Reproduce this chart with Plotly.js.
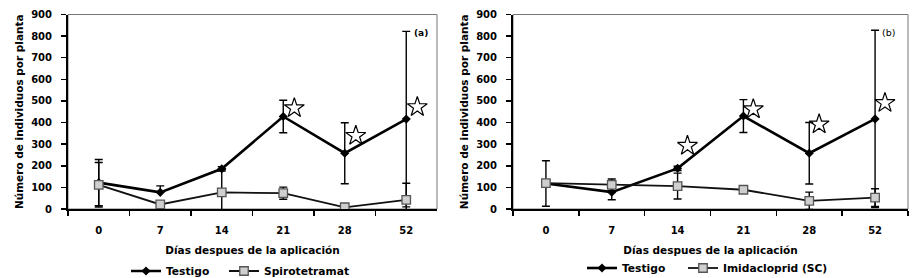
<!DOCTYPE html>
<html>
<head>
<meta charset="utf-8">
<script src="https://cdn.plot.ly/plotly-3.0.1.min.js"></script>
<style>
html,body{margin:0;padding:0;background:#fff;}
#chart{width:916px;height:278px;}
</style>
</head>
<body>
<div id="chart"></div>
<script>
// ---- data ----
const categories = ['0', '7', '14', '21', '28', '52'];

// panel (a)
const testigoA = [122, 77, 186, 428, 258, 416];
const testigoAErrPlus = [107, 30, 10, 75, 141, 406];
const testigoAErrMinus = [107, 0, 10, 75, 141, 406];
const spiroA = [112, 21, 77, 73, 8, 42];
const spiroAErr = [103, 0, 105, 28, 0, 77];
const starCatA = ['21', '28', '52'];
const starYA = [467, 339, 472];

// panel (b)
const testigoB = [118, 78, 188, 430, 258, 417];
const testigoBErr = [105, 35, 10, 76, 142, 410];
const imidaB = [120, 112, 106, 89, 38, 53];
const imidaBErr = [0, 27, 60, 0, 40, 41];
const starCatB = ['14', '21', '28', '52'];
const starYB = [293, 462, 392, 491];

const yTickVals = [0, 100, 200, 300, 400, 500, 600, 700, 800, 900];

// ---- styles ----
const W = 916, H = 278;
const FONT = 'DejaVu Sans, Verdana, sans-serif';
const starOffsetA = 0.18, starOffsetB = 0.15;
const px = v => v / W;
const py = v => (H - v) / H;

function testigoTrace(y, plus, minus, xa, ya, legend) {
  return {
    type: 'scatter', mode: 'lines+markers', name: 'Testigo',
    x: categories, y: y, xaxis: xa, yaxis: ya, legend: legend,
    line: {color: '#000', width: 2.6},
    marker: {symbol: 'diamond', size: 7, color: '#000'},
    error_y: {type: 'data', symmetric: false, array: plus, arrayminus: minus,
              color: '#000', thickness: 1.4, width: 4}
  };
}
function treatTrace(name, y, err, xa, ya, legend) {
  return {
    type: 'scatter', mode: 'lines+markers', name: name,
    x: categories, y: y, xaxis: xa, yaxis: ya, legend: legend,
    line: {color: '#111', width: 1.8},
    marker: {symbol: 'square', size: 8.5, color: '#cfcfcf', line: {color: '#555', width: 1.3}},
    error_y: {type: 'data', array: err, color: '#000', thickness: 1.4, width: 4}
  };
}
function starTrace(cats, ys, off, xa, ya) {
  return {
    type: 'scatter', mode: 'markers', showlegend: false, hoverinfo: 'skip',
    x: cats.map(c => categories.indexOf(c) + off), y: ys, xaxis: xa, yaxis: ya,
    marker: {symbol: 'star-open', size: 15, color: '#000', line: {color: '#000', width: 1.2}}
  };
}

const data = [
  testigoTrace(testigoA, testigoAErrPlus, testigoAErrMinus, 'x', 'y', 'legend'),
  treatTrace('Spirotetramat', spiroA, spiroAErr, 'x', 'y', 'legend2'),
  starTrace(starCatA, starYA, starOffsetA, 'x3', 'y'),
  testigoTrace(testigoB, testigoBErr, testigoBErr, 'x2', 'y2', 'legend3'),
  treatTrace('Imidacloprid (SC)', imidaB, imidaBErr, 'x2', 'y2', 'legend4'),
  starTrace(starCatB, starYB, starOffsetB, 'x4', 'y2')
];

const tickFont = {family: FONT, size: 10, color: '#000', weight: 'bold'};
const titleFont = {family: FONT, size: 10.5, color: '#000', weight: 'bold'};

function xAxis(domain, anchor) {
  return {
    type: 'category', domain: domain, anchor: anchor,
    range: [-0.5, 5.5], fixedrange: true,
    showline: true, linecolor: '#000', linewidth: 2,
    ticks: 'outside', tickson: 'boundaries', ticklen: 5, tickwidth: 1.5, tickcolor: '#000',
    showgrid: false, zeroline: false,
    tickfont: tickFont, ticklabelstandoff: 11,
    title: {text: 'Días despues de la aplicación', font: titleFont, standoff: 12}
  };
}
function xOver(domain, overlay) {
  return {
    type: 'linear', domain: domain, overlaying: overlay, anchor: 'free', position: 0,
    range: [-0.5, 5.5], visible: false, fixedrange: true
  };
}
function yAxis(domain, anchor) {
  return {
    domain: domain, anchor: anchor, range: [0, 900], fixedrange: true,
    tickmode: 'array', tickvals: yTickVals,
    showline: true, linecolor: '#000', linewidth: 2,
    ticks: 'outside', ticklen: 5, tickwidth: 1.5, tickcolor: '#000',
    showgrid: false, zeroline: false,
    tickfont: tickFont, ticklabelstandoff: 7,
    title: {text: 'Número de individuos por planta', font: titleFont, standoff: 5}
  };
}

const dA = [px(68), px(437)];
const dB = [px(513), px(908)];
const dY = [py(209), py(14.5)];

const legendFont = {family: FONT, size: 10.7, color: '#000', weight: 'bold'};
function leg(x, y) {
  return {orientation: 'h', x: px(x), xanchor: 'left', y: py(y), yanchor: 'middle',
          font: legendFont, bgcolor: 'rgba(0,0,0,0)', borderwidth: 0};
}

const layout = {
  width: W, height: H,
  margin: {l: 0, r: 0, t: 0, b: 0, autoexpand: false},
  paper_bgcolor: '#fff', plot_bgcolor: '#fff',
  xaxis: xAxis(dA, 'y'),
  yaxis: yAxis(dY, 'x'),
  xaxis2: xAxis(dB, 'y2'),
  yaxis2: yAxis(dY, 'x2'),
  xaxis3: xOver(dA, 'x'),
  xaxis4: xOver(dB, 'x2'),
  legend: leg(126, 271),
  legend2: leg(224, 271),
  legend3: leg(582, 268),
  legend4: leg(683, 268),
  shapes: [
    {type: 'rect', xref: 'x domain', yref: 'y domain', x0: 0, x1: 1, y0: 0, y1: 1,
     line: {color: '#777', width: 1}, layer: 'below'},
    {type: 'rect', xref: 'x2 domain', yref: 'y2 domain', x0: 0, x1: 1, y0: 0, y1: 1,
     line: {color: '#777', width: 1}, layer: 'below'}
  ],
  annotations: [
    {text: '(a)', xref: 'paper', yref: 'paper', x: px(421), y: py(26), showarrow: false,
     font: {family: FONT, size: 9, color: '#000', weight: 'bold'}},
    {text: '(b)', xref: 'paper', yref: 'paper', x: px(897), y: py(25), showarrow: false,
     font: {family: FONT, size: 9.5, color: '#000'}}
  ]
};

Plotly.newPlot('chart', data, layout, {staticPlot: true, displayModeBar: false});
</script>
</body>
</html>
